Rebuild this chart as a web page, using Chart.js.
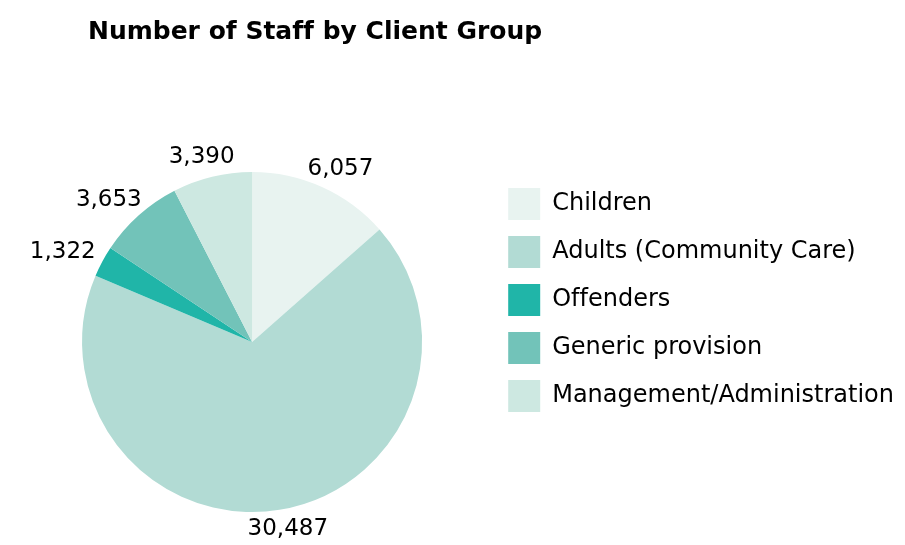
<!DOCTYPE html>
<html>
<head>
<meta charset="utf-8">
<script src="https://cdn.jsdelivr.net/npm/chart.js@4.4.1/dist/chart.umd.min.js"></script>
<style>
  html, body { margin: 0; padding: 0; background: #fff; }
  #wrap { position: relative; width: 905px; height: 545px; }
  #title {
    position: absolute; left: 88px; top: 16px; margin: 0;
    font: bold 25px/30px "DejaVu Sans", sans-serif; color: #000;
    font-variant-ligatures: none;
  }
</style>
</head>
<body>
<div id="wrap">
  <h1 id="title">Number of Staff by Client Group</h1>
  <canvas id="pieChart" width="905" height="545"></canvas>
</div>
<script>
// Staff numbers per client group
const groups = ["Children", "Adults (Community Care)", "Offenders", "Generic provision", "Management/Administration"];
const staff = [6057, 30487, 1322, 3653, 3390];
const sliceColors = ["#e8f3f0", "#b2dbd4", "#20b5a8", "#72c3b9", "#cde8e1"];

// plain glyphs, no "ff" ligature in the legend text
const noLigatures = {
  id: "noLigatures",
  beforeDraw(chart) {
    chart.ctx.textRendering = "optimizeSpeed";
  },
};

// value labels just outside each slice
const outsideLabels = {
  id: "outsideLabels",
  afterDatasetsDraw(chart) {
    const ctx = chart.ctx;
    const meta = chart.getDatasetMeta(0);
    ctx.save();
    ctx.font = "23px 'DejaVu Sans', sans-serif";
    ctx.fillStyle = "#000";
    ctx.textAlign = "center";
    ctx.textBaseline = "middle";
    meta.data.forEach((arc, i) => {
      const p = arc.getProps(["x", "y", "startAngle", "endAngle", "outerRadius"], true);
      const mid = (p.startAngle + p.endAngle) / 2;
      const text = staff[i].toLocaleString("en-US");
      const w = ctx.measureText(text).width;
      const r = p.outerRadius + 12;
      const cx = p.x + Math.cos(mid) * (r + w / 2);
      const cy = p.y + Math.sin(mid) * (r + 8);
      ctx.fillText(text, cx, cy);
    });
    ctx.restore();
  },
};

const ctxPie = document.getElementById("pieChart").getContext("2d");
new Chart(ctxPie, {
  type: "pie",
  data: {
    labels: groups,
    datasets: [
      {
        label: "Staff",
        data: staff,
        backgroundColor: sliceColors,
        borderWidth: 0,
      },
    ],
  },
  options: {
    responsive: false,
    animation: false,
    layout: {
      padding: { top: 172, bottom: 33, left: 12, right: 1 },
    },
    plugins: {
      legend: {
        position: "right",
        align: "start",
        labels: {
          boxWidth: 32,
          boxHeight: 32,
          padding: 16,
          color: "#000",
          font: { family: "'DejaVu Sans', sans-serif", size: 24 },
        },
      },
      tooltip: { enabled: false },
    },
  },
  plugins: [noLigatures, outsideLabels],
});
</script>
</body>
</html>
